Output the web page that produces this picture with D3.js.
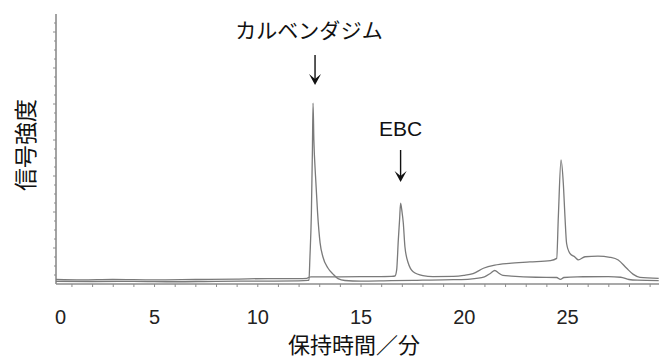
<!DOCTYPE html>
<html>
<head>
<meta charset="utf-8">
<script src="https://cdn.jsdelivr.net/npm/d3@7"></script>
<style>
  html, body { margin: 0; padding: 0; background: #fff; }
  svg { display: block; }
</style>
</head>
<body>
<svg id="chart" width="659" height="358"></svg>
<script>
// Retention time (min) and detector signal (arbitrary units)
const traceLower = [
  [0.25, 0.30], [2, 0.28], [4, 0.30], [6, 0.25], [8, 0.30], [10, 0.32], [12.0, 0.35],
  [12.45, 0.40], [12.50, 0.45], [12.55, 3.0], [12.62, 7.9], [12.67, 14.9], [12.70, 20.1],
  [12.74, 16.0], [12.82, 12.0], [12.92, 7.9], [13.04, 4.6], [13.18, 3.0], [13.42, 1.78],
  [13.67, 1.10], [13.91, 0.60], [14.24, 0.39], [15, 0.33], [16.5, 0.38], [18, 0.42],
  [19.5, 0.48], [20.3, 0.55], [21.0, 0.80], [21.3, 1.20], [21.5, 1.50], [21.7, 1.20],
  [21.9, 0.95], [22.3, 0.88], [23.5, 0.75], [24.5, 0.72], [24.68, 0.52], [24.85, 0.72],
  [25.5, 0.80], [27.0, 0.82], [27.6, 0.75], [28.0, 0.50], [28.4, 0.42], [29.44, 0.38]
];
const traceUpper = [
  [0.25, 0.50], [1.5, 0.45], [3, 0.50], [5, 0.45], [7, 0.50], [9, 0.55], [10.5, 0.60],
  [12.0, 0.60], [12.4, 0.62], [12.5, 0.75], [12.6, 0.80], [14, 0.80], [15.5, 0.82],
  [16.5, 0.85], [16.67, 0.89], [16.75, 1.56], [16.83, 4.9], [16.89, 7.1], [16.94, 8.97],
  [17.01, 8.0], [17.07, 6.8], [17.15, 4.14], [17.31, 2.33], [17.55, 1.37], [18.02, 0.94],
  [18.51, 0.83], [19.5, 0.85], [20.0, 0.95], [20.45, 1.15], [20.95, 1.75], [21.5, 2.10],
  [22.2, 2.30], [23.2, 2.45], [24.2, 2.60], [24.5, 2.85], [24.58, 7.5], [24.71, 13.8],
  [24.82, 11.2], [24.90, 7.5], [24.98, 4.5], [25.14, 3.4], [25.38, 3.0], [25.55, 2.67],
  [25.87, 3.03], [26.5, 3.10], [27.08, 2.97], [27.48, 2.67], [27.89, 1.74], [28.21, 1.07],
  [28.53, 0.74], [29.44, 0.63]
];

// Peak annotations: label and retention time
const peakLabels = ["カルベンダジム", "EBC"];
const peakTimes = [12.70, 16.94];

const xTickValues = [0, 5, 10, 15, 20, 25];
const xMinorTicks = d3.range(1, 30);
const xTitle = "保持時間／分";
const yTitle = "信号強度";

const svg = d3.select("#chart");
const axisY0 = 284;
const x = d3.scaleLinear().domain([0, 29.44]).range([50.8, 658.7]);
const y = d3.scaleLinear().domain([0, 30]).range([axisY0, 14]);
const plotLeft = 56;

const axisColor = "#8c8c8c";
const lineColor = "#7a7a7a";
const latin = "'Liberation Sans', Arial, sans-serif";
const cjk = "'Noto Sans CJK JP', sans-serif";

// y axis: line with small ticks on the left side
const yg = svg.append("g");
yg.append("line")
  .attr("x1", plotLeft).attr("x2", plotLeft)
  .attr("y1", y(30)).attr("y2", axisY0)
  .attr("stroke", axisColor).attr("stroke-width", 1.6);
yg.selectAll("line.tick")
  .data(d3.range(1, 30))
  .join("line")
  .attr("class", "tick")
  .attr("x1", d => plotLeft - (d % 4 === 0 ? 3 : 2)).attr("x2", plotLeft)
  .attr("y1", d => y(d)).attr("y2", d => y(d))
  .attr("stroke", axisColor).attr("stroke-width", 1);

// x axis
const xg = svg.append("g").attr("transform", `translate(0,${axisY0})`);
xg.call(d3.axisBottom(x).tickValues(xMinorTicks).tickSize(3).tickFormat(""))
  .call(g => g.select(".domain").remove());
xg.selectAll(".tick line").attr("stroke", axisColor);
xg.append("line")
  .attr("x1", plotLeft).attr("x2", 659)
  .attr("stroke", axisColor).attr("stroke-width", 1.4);

const xl = svg.append("g").attr("transform", `translate(0,${axisY0})`);
xl.call(d3.axisBottom(x).tickValues(xTickValues).tickSize(0).tickFormat(d3.format("d")))
  .call(g => g.select(".domain").remove());
xl.selectAll(".tick text")
  .attr("y", 40).attr("dy", 0)
  .attr("dx", d => d === 0 ? Math.max(0, 60 - x(0)) : 0)
  .attr("fill", "#222")
  .style("font-family", latin)
  .style("font-size", "20px");

// chromatogram traces
const line = d3.line()
  .x(d => x(d[0]))
  .y(d => y(d[1]))
  .curve(d3.curveMonotoneX);

[traceLower, traceUpper].forEach(tr => {
  svg.append("path")
    .datum(tr)
    .attr("d", line)
    .attr("fill", "none")
    .attr("stroke", lineColor)
    .attr("stroke-width", 1.3)
    .attr("stroke-linejoin", "round");
});

// peak annotations with down arrows
const annotations = [
  { label: peakLabels[0], t: peakTimes[0], font: cjk, size: 21, labelY: 29, dxLabel: -4, dxArrow: 2, top: 55, bottom: 85 },
  { label: peakLabels[1], t: peakTimes[1], font: latin, size: 21, labelY: 128, dxLabel: 0, dxArrow: 0, top: 150, bottom: 182 }
];
annotations.forEach(a => {
  const px = x(a.t);
  svg.append("text")
    .attr("x", px + a.dxLabel).attr("y", a.labelY)
    .attr("text-anchor", "middle")
    .attr("dominant-baseline", "central")
    .attr("fill", "#111")
    .style("font-family", a.font)
    .style("font-size", a.size + "px")
    .text(a.label);
  const ax = px + a.dxArrow;
  svg.append("line")
    .attr("x1", ax).attr("x2", ax)
    .attr("y1", a.top).attr("y2", a.bottom - 4)
    .attr("stroke", "#111").attr("stroke-width", 1.4);
  svg.append("path")
    .attr("d", `M${ax - 6},${a.bottom - 11} L${ax},${a.bottom} L${ax + 6},${a.bottom - 11} L${ax},${a.bottom - 6} Z`)
    .attr("fill", "#111");
});

// axis titles
svg.append("text")
  .attr("x", 354).attr("y", 343)
  .attr("text-anchor", "middle")
  .attr("dominant-baseline", "central")
  .attr("fill", "#111")
  .style("font-family", cjk)
  .style("font-size", "22px")
  .text(xTitle);

svg.append("text")
  .attr("transform", "translate(24,145) rotate(-90)")
  .attr("text-anchor", "middle")
  .attr("dominant-baseline", "central")
  .attr("fill", "#111")
  .style("font-family", cjk)
  .style("font-size", "23px")
  .text(yTitle);
</script>
</body>
</html>
